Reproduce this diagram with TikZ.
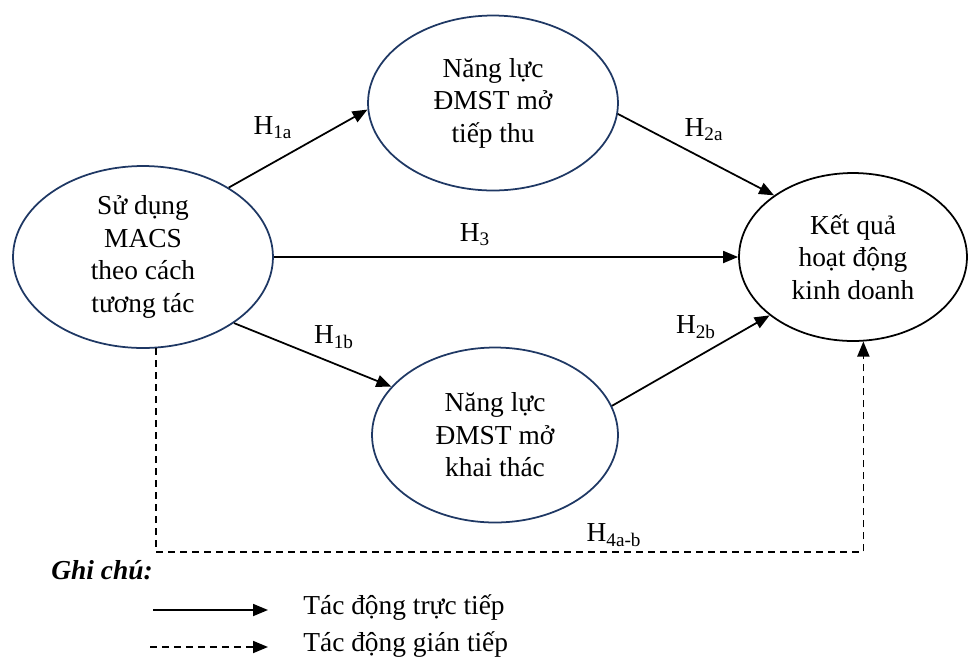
\documentclass[tikz,border=0pt]{standalone}
\usepackage{fontspec}
\setmainfont{Liberation Serif}
\usepackage{xcolor}
\usepackage{tikz}
\usetikzlibrary{arrows.meta,positioning,shapes.geometric}
\definecolor{ellblue}{RGB}{31,56,100}

\begin{document}
\begin{tikzpicture}[
    x=0.02cm, y=-0.02cm,
    font=\fontsize{15.6}{18.5}\selectfont,
    var/.style={ellipse, draw=ellblue, line width=1pt, align=center, inner sep=0pt},
    arr/.style={-{Triangle[length=0.3cm, width=0.24cm]}, line width=1pt},
    dsh/.style={arr, dash pattern=on 0.14cm off 0.1cm},
    lbl/.style={inner sep=0pt}
]
\useasboundingbox (0,0) rectangle (968,664);

\node[var, minimum width=5.2cm, minimum height=3.64cm] (use) at (143,257) {Sử dụng\\MACS\\theo cách\\tương tác};
\node[var, minimum width=5.0cm, minimum height=3.5cm] (acq) at (493,103) {Năng lực\\ĐMST mở\\tiếp thu};
\node[var, minimum width=4.92cm, minimum height=3.5cm] (exp) at (495,435) {Năng lực\\ĐMST mở\\khai thác};
\node[var, draw=black, minimum width=4.56cm, minimum height=3.36cm] (perf) at (853,257) {Kết quả\\hoạt động\\kinh doanh};

\node[lbl] (h1a) at (273,128) {H\textsubscript{1a}};
\node[lbl] (h3) at (475,235) {H\textsubscript{3}};
\node[lbl] (h2a) at (704,130) {H\textsubscript{2a}};
\node[lbl] (h1b) at (334,337) {H\textsubscript{1b}};
\node[lbl] (h2b) at (696,327) {H\textsubscript{2b}};
\node[lbl] (h4) at (614,535) {H\textsubscript{4a-b}};

\coordinate (base) at (0,552);
\draw[arr] (use.39) -- (acq.183);
\draw[arr] (use.-36) -- (exp.155);
\draw[arr] (use.east) -- (perf.west);
\draw[arr] (acq.-5) -- (perf.142);
\draw[arr] (exp.14) -- (perf.-145);
\draw[dsh] (use.-82) -- (use.-82 |- base) -| (perf.-83);

% legend
\node[font=\fontsize{15.6}{18.5}\selectfont\bfseries\itshape] (note) at (102,570) {Ghi chú:};
\node[lbl, anchor=west] (direct) at (303,608) {Tác động trực tiếp};
\node[lbl, anchor=west] (indirect) at (303,645) {Tác động gián tiếp};
\coordinate (d0) at (153,610);
\coordinate (i0) at (150,647);
\draw[arr, shorten >=0.7cm] (d0) -- (d0 -| direct.west);
\draw[dsh, shorten >=0.7cm] (i0) -- (i0 -| indirect.west);
\end{tikzpicture}
\end{document}
